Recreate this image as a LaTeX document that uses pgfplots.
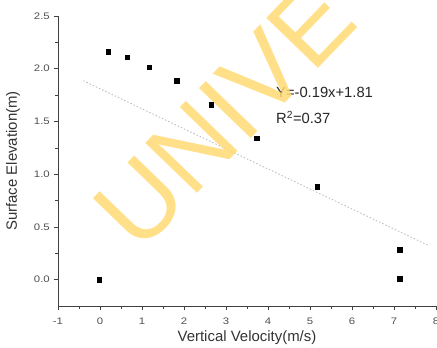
\documentclass[border=0pt]{standalone}
\usepackage{pgfplots}
\pgfplotsset{compat=1.18}
\usepackage{fontspec}
\setmainfont{Liberation Sans}
\definecolor{wm}{RGB}{255,218,115}
\definecolor{tickgray}{RGB}{80,80,80}
\begin{document}
\begin{tikzpicture}
\begin{axis}[
  scale only axis, width=378bp, height=290bp,
  xmin=-1, xmax=8, ymin=-0.25, ymax=2.5,
  clip=false,
  axis x line=bottom, axis y line=left,
  axis line style={-, draw=black!75, line width=0.8pt},
  xtick={-1,0,1,2,3,4,5,6,7,8},
  ytick={0,0.5,1,1.5,2,2.5},
  minor x tick num=1, minor y tick num=1,
  tick align=outside, major tick length=4bp, minor tick length=2.5bp,
  tick style={draw=black!75, line width=0.6pt},
  /pgf/number format/assume math mode=true,
  yticklabel style={/pgf/number format/fixed, /pgf/number format/fixed zerofill, /pgf/number format/precision=1},
  xticklabel style={yshift=-4bp},
  tick label style={font=\fontsize{9.5}{10}\selectfont, text=tickgray, xscale=1.2},
  xlabel={Vertical Velocity(m/s)},
  ylabel={Surface Elevation(m)},
  label style={font=\fontsize{15}{17}\selectfont, text=black!80},
  xlabel style={at={(axis description cs:0.5,-0.11)}, anchor=center},
  ylabel style={at={(axis description cs:-0.119,0.5)}, anchor=center},
]
\addplot[only marks, mark=square*, mark size=2.3bp, black] coordinates {
  (-0.02,0.00) (0.20,2.16) (0.65,2.11) (1.17,2.015) (1.83,1.885)
  (2.65,1.66) (3.73,1.34) (5.17,0.884) (7.13,0.285) (7.13,0.007)
};
\addplot[gray!55, line width=0.8pt, dash pattern=on 1.5pt off 2pt] coordinates {
  (-0.4,1.886) (7.8,0.328)
};
\node[anchor=west, inner sep=0, font=\fontsize{14.8}{16}\selectfont, text=black!85] at (axis cs:4.19,1.78) {Y=-0.19x+1.81};
\node[anchor=west, inner sep=0, font=\fontsize{14.8}{16}\selectfont, text=black!85] at (axis cs:4.19,1.54) {R\textsuperscript{2}=0.37};
\node[rotate=46, anchor=base west, inner sep=0, text=wm, opacity=0.85, font=\fontsize{105}{105}\selectfont] at (axis cs:0.93,0.24) {UNIVE};
\coordinate (bl) at (rel axis cs:0,0);
\coordinate (tr) at (rel axis cs:1,1);
\end{axis}
\pgfresetboundingbox
\useasboundingbox ([shift={(-58bp,-42bp)}]bl) rectangle ([shift={(1bp,16bp)}]tr);
\end{tikzpicture}
\end{document}
